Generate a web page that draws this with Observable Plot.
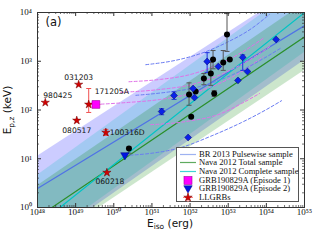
<!DOCTYPE html>
<html><head><meta charset="utf-8">
<script src="https://cdn.jsdelivr.net/npm/d3@7"></script>
<script src="https://cdn.jsdelivr.net/npm/@observablehq/plot@0.6"></script>
<style>
body{margin:0;background:#fff}
#chart{position:relative;width:320px;height:240px}
#legend{position:absolute;left:176px;top:147px;width:123px;height:55px;background:#fff;border:0.8px solid #555;box-sizing:border-box;font-family:"Liberation Serif",serif;font-size:8.6px;color:#111}
#legend .row{position:absolute;left:0;height:9px;width:122px}
#legend .row svg{position:absolute;left:1px;top:0;width:20px;height:9px;overflow:visible}
#legend .row span{position:absolute;left:22px;top:0;line-height:9px;white-space:nowrap}
</style>
</head><body><div id="chart"></div>
<script>
// ---------- axes ----------
const majorX = [1e48,1e49,1e50,1e51,1e52,1e53,1e54,1e55];
const majorY = [1,10,100,1000,10000];
// ---------- correlation bands (values at Eiso = 1e48 and 1e55) ----------
const bandX = [1e48, 1e55];
const brCenter = [2.45, 5370];
const brUpper  = [11.2, 39800];
const brLower  = [0.158, 1050];
const navaCCenter = [0.43, 10000];
const navaCUpper  = [4.57, 39800];
const navaCLower  = [0.178, 1510];
const navaTCenter = [0.63, 3160];
const navaTUpper  = [2.8, 15500];
const navaTLower  = [0.141, 645];
// ---------- LLGRBs ----------
const llgrbNames = ["980425","031203","171205A","080517","100316D","060218"];
const llgrbEiso  = [1.6e48, 1.2e49, 2.2e49, 1.07e49, 6.2e49, 6.6e49];
const llgrbEp    = [142, 333, 130, 61, 34.6, 5.2];
const llgrbEpLo  = [null, null, 89, null, 30, null];
const llgrbEpHi  = [null, null, 276, null, 40, null];
// ---------- other GRBs (black) ----------
const blackEiso = [9.3e52,4.0e52,7.4e52,1.1e53,3.5e52,2.3e52,9.4e51,1.4e52,4.3e52,1.07e52,2.5e50];
const blackEp   = [3540,1090,940,1090,560,445,208,240,218,73,16.2];
const blackEpLo = [1590,700,650,null,320,330,125,null,190,null,13];
const blackEpHi = [9500,1660,1660,null,940,560,360,null,250,null,17.5];
// ---------- blue diamonds ----------
const blueEiso = [1.8e51,3.8e51,1.2e52,1.3e52,2.8e52,5.5e52,1.8e53,2.4e53,3.2e53,1.8e54,8.9e51];
const blueEp   = [93,198,276,180,990,780,405,1200,615,2800,27.3];
const blueEpLo = [80,165,null,null,590,null,null,650,null,null,null];
const blueEpHi = [106,235,null,null,1500,null,null,1350,null,null,null];
// ---------- GRB190829A ----------
const ep1Eiso = [3.4e49], ep1Ep = [130], ep1EisoLo=[2.0e49], ep1EisoHi=[4.7e49], ep1EpLo=[110], ep1EpHi=[150];
const ep2Eiso = [1.95e50], ep2Ep = [11.7];
// ---------- redshift tracks (dashed) ----------
const trackA = {c:"blue",    e:[1.95e50,9.3e50,5.8e51,3.5e52,2.2e53,1.0e54,2.5e54], p:[11.7,12.9,17,29,55,102,155]};
const trackB = {c:"magenta", e:[3.4e49,2.1e50,1.7e51,1.07e52,6.6e52,3.0e53,8.3e53], p:[130,142,165,218,365,710,1250]};
const trackC = {c:"blue",    e:[6.9e50,4.3e51,1.95e52,8.9e52,4.1e53,1.2e54], p:[850,1050,1450,2400,4700,9100]};
const trackD = {c:"magenta", e:[2.5e50,1.7e51,1.07e52,4.8e52,2.2e53,8.3e53], p:[380,425,540,820,1500,2950]};
const trackE = {c:"magenta", e:[1.5e50,1.7e51,1.07e52,6.6e52,3.5e53,1.35e54], p:[230,265,330,540,1050,2100]};
const trackF = {c:"blue",    e:[3.8e50,2.3e51,1.45e52,8.9e52,5.5e53,2.5e54], p:[200,230,290,465,940,1900]};
const trackG = {c:"magenta", e:[9.3e50,7.8e51,6.6e52,2.2e53,6.6e53], p:[50,58,85,135,218]};
const tracks = [trackA,trackB,trackC,trackD,trackE,trackF,trackG];
// ---------- legend ----------
const legendLabels = ["BR 2013 Pulsewise sample","Nava 2012 Total sample","Nava 2012 Complete sample","GRB190829A (Episode 1)","GRB190829A (Episode 2)","LLGRBs"];

// ---------- styles ----------
const COL = {br:"#0000ff", brLine:"#4f72e6", navaC:"#00bfbf", navaCLine:"#00c4c4", navaT:"#008000", navaTLine:"#2a8f2a",
  dashBlue:"#6a7cf2", dashMag:"#e070e8", star:"#d40000", sq:"#ff00ff", tri:"#0014e0", dia:"#0a22e8"};
const W=320,H=240,mL=37,mR=16,mT=12,mB=33, pH=H-mT-mB, pW=W-mL-mR;
const sup = d => "10" + String(Math.round(Math.log10(d))).split("").map(c=>"⁰¹²³⁴⁵⁶⁷⁸⁹"[+c]).join("");
function minorOf(major){const out=[];for(let i=0;i<major.length-1;i++)for(let k=2;k<10;k++)out.push(major[i]*k);return out;}
const minorX = minorOf(majorX), minorY = minorOf(majorY);
const band = (lo,hi)=> bandX.map((x,i)=>({x, lo:lo[i], hi:hi[i]}));
const line = (c)=> bandX.map((x,i)=>({x, y:c[i]}));
const zipErr = (e,p,lo,hi)=> e.map((x,i)=>({x, y:p[i], lo:lo[i], hi:hi[i]})).filter(d=>d.lo!=null);
const triDown = {draw(ctx,size){const r=Math.sqrt(size/Math.PI);ctx.moveTo(-r*1.15,-r*0.75);ctx.lineTo(r*1.15,-r*0.75);ctx.lineTo(0,r*1.25);ctx.closePath();}};
const cap = {draw(ctx,size){ctx.moveTo(-2.5,0);ctx.lineTo(2.5,0);}};

const trackRows = tracks.map((t,k)=>t.e.map((e,i)=>({x:e,y:t.p[i],k,c:t.c}))).flat();
const llgrb = llgrbNames.map((n,i)=>({n,x:llgrbEiso[i],y:llgrbEp[i]}));
const labelOff = {"980425":[-2,-7,"start"],"031203":[0,-7,"middle"],"171205A":[6,-13,"start"],"080517":[0,10,"middle"],"100316D":[4,0,"start"],"060218":[3,9,"middle"]};

const blackErr = zipErr(blackEiso,blackEp,blackEpLo,blackEpHi);
const blueErr = zipErr(blueEiso,blueEp,blueEpLo,blueEpHi);
const llErr = zipErr(llgrbEiso,llgrbEp,llgrbEpLo,llgrbEpHi);

const marks = [
  Plot.areaY(band(brLower,brUpper),{x:"x",y1:"lo",y2:"hi",fill:COL.br,fillOpacity:0.2,clip:true}),
  Plot.areaY(band(navaCLower,navaCUpper),{x:"x",y1:"lo",y2:"hi",fill:COL.navaC,fillOpacity:0.2,clip:true}),
  Plot.areaY(band(navaTLower,navaTUpper),{x:"x",y1:"lo",y2:"hi",fill:COL.navaT,fillOpacity:0.2,clip:true}),
  Plot.line(line(brCenter),{x:"x",y:"y",stroke:COL.brLine,strokeWidth:1.2,clip:true}),
  Plot.line(line(navaTCenter),{x:"x",y:"y",stroke:COL.navaTLine,strokeWidth:1.2,clip:true}),
  Plot.line(line(navaCCenter),{x:"x",y:"y",stroke:COL.navaCLine,strokeWidth:1.2,clip:true}),
  Plot.line(trackRows,{x:"x",y:"y",z:"k",stroke:d=>d.c==="blue"?COL.dashBlue:COL.dashMag,strokeWidth:1,strokeDasharray:"3,2.2",curve:"monotone-x",clip:true}),
  // error bars
  Plot.ruleX(blackErr,{x:"x",y1:"lo",y2:"hi",stroke:"#555",strokeWidth:1}),
  Plot.dot(blackErr,{x:"x",y:"lo",symbol:cap,stroke:"#555",strokeWidth:1}),
  Plot.dot(blackErr,{x:"x",y:"hi",symbol:cap,stroke:"#555",strokeWidth:1}),
  Plot.ruleX(blueErr,{x:"x",y1:"lo",y2:"hi",stroke:"#2030e0",strokeWidth:1}),
  Plot.dot(blueErr,{x:"x",y:"lo",symbol:cap,stroke:"#2030e0",strokeWidth:1}),
  Plot.dot(blueErr,{x:"x",y:"hi",symbol:cap,stroke:"#2030e0",strokeWidth:1}),
  Plot.ruleX(llErr,{x:"x",y1:"lo",y2:"hi",stroke:"#f05050",strokeWidth:1}),
  Plot.dot(llErr,{x:"x",y:"lo",symbol:cap,stroke:"#f05050",strokeWidth:1}),
  Plot.dot(llErr,{x:"x",y:"hi",symbol:cap,stroke:"#f05050",strokeWidth:1}),
  Plot.ruleY(ep1Eiso.map((x,i)=>({y:ep1Ep[i],x1:ep1EisoLo[i],x2:ep1EisoHi[i]})),{y:"y",x1:"x1",x2:"x2",stroke:"#ff80c0",strokeWidth:1}),
  Plot.ruleX(ep1Eiso.map((x,i)=>({x,y1:ep1EpLo[i],y2:ep1EpHi[i]})),{x:"x",y1:"y1",y2:"y2",stroke:"#ff80c0",strokeWidth:1}),
  // points
  Plot.dot(blackEiso.map((x,i)=>({x,y:blackEp[i]})),{x:"x",y:"y",r:3,fill:"black"}),
  Plot.dot(blueEiso.map((x,i)=>({x,y:blueEp[i]})),{x:"x",y:"y",r:3.1,symbol:"diamond2",fill:COL.dia,stroke:"#000070",strokeWidth:0.5}),
  Plot.dot(llgrb,{x:"x",y:"y",r:2.6,symbol:"star",fill:COL.star,stroke:"#700000",strokeWidth:0.5}),
  Plot.dot(ep1Eiso.map((x,i)=>({x,y:ep1Ep[i]})),{x:"x",y:"y",r:4.4,symbol:"square",fill:COL.sq,stroke:"#a000a0",strokeWidth:0.6}),
  Plot.dot(ep2Eiso.map((x,i)=>({x,y:ep2Ep[i]})),{x:"x",y:"y",r:3.6,symbol:triDown,fill:COL.tri,stroke:"#000080",strokeWidth:0.5}),
  ...llgrb.map(d=>Plot.text([d],{x:"x",y:"y",text:"n",dx:labelOff[d.n][0],dy:labelOff[d.n][1],textAnchor:labelOff[d.n][2],fontFamily:"DejaVu Sans",fontSize:7.6,fill:"#111"})),
  Plot.text(["(a)"],{frameAnchor:"top-left",dx:8,dy:5,lineAnchor:"top",textAnchor:"start",fontFamily:"DejaVu Sans",fontSize:11.5,fill:"#111"}),
  // inward ticks
  Plot.tickX(majorX,{x:d=>d,insetTop:pH-4,stroke:"#333"}),
  Plot.tickX(majorX,{x:d=>d,insetBottom:pH-4,stroke:"#333"}),
  Plot.tickX(minorX,{x:d=>d,insetTop:pH-2,stroke:"#333",strokeWidth:0.7}),
  Plot.tickX(minorX,{x:d=>d,insetBottom:pH-2,stroke:"#333",strokeWidth:0.7}),
  Plot.tickY(majorY,{y:d=>d,insetRight:pW-4,stroke:"#333"}),
  Plot.tickY(majorY,{y:d=>d,insetLeft:pW-4,stroke:"#333"}),
  Plot.tickY(minorY,{y:d=>d,insetRight:pW-2,stroke:"#333",strokeWidth:0.7}),
  Plot.tickY(minorY,{y:d=>d,insetLeft:pW-2,stroke:"#333",strokeWidth:0.7}),
  Plot.frame({stroke:"#333",strokeWidth:1}),
  Plot.axisX({ticks:majorX,tickSize:0,tickPadding:1.5,tickFormat:sup,label:null,fontFamily:"Liberation Serif",fontSize:9}),
  Plot.axisY({ticks:majorY,tickSize:0,tickPadding:5.5,tickFormat:sup,label:null,fontFamily:"Liberation Serif",fontSize:9})
];

const svg = Plot.plot({
  width:W,height:H,marginLeft:mL,marginRight:mR,marginTop:mT,marginBottom:mB,
  x:{type:"log",domain:[1e48,1e55]},
  y:{type:"log",domain:[1,1e4]},
  style:{fontFamily:"Liberation Serif",fontSize:"9px",background:"white",color:"#111"},
  marks
});
const chart = document.getElementById("chart");
chart.appendChild(svg);

// axis labels with subscripts
const s = d3.select(svg);
const xl = s.append("text").attr("x",170).attr("y",226.5).attr("text-anchor","middle").attr("font-family","DejaVu Sans").attr("font-size",10.5).attr("fill","#111");
xl.append("tspan").text("E");
xl.append("tspan").attr("font-size",7.5).attr("dy",2.5).text("iso");
xl.append("tspan").attr("dy",-2.5).text(" (erg)");
const yl = s.append("text").attr("transform","translate(11,110) rotate(-90)").attr("text-anchor","middle").attr("font-family","DejaVu Sans").attr("font-size",10.5).attr("fill","#111");
yl.append("tspan").text("E");
yl.append("tspan").attr("font-size",7.5).attr("dy",2.5).text("p,z");
yl.append("tspan").attr("dy",-2.5).text(" (keV)");

// legend (HTML overlay)
const lineCols = [COL.brLine, COL.navaTLine, COL.navaCLine];
const starPath = d3.symbol(d3.symbolStar,22)();
const markerSvg = i => {
  if (i<3) return `<line x1="2" x2="18" y1="4.5" y2="4.5" stroke="${lineCols[i]}" stroke-width="1.2" stroke-opacity="${i===0?0.55:0.75}"/>`;
  if (i===3) return `<rect x="6" y="0.5" width="8" height="8" fill="${COL.sq}" stroke="#a000a0" stroke-width="0.6"/>`;
  if (i===4) return `<path transform="translate(10,4.5)" d="M-4.2,-2.8L4.2,-2.8L0,4.6Z" fill="${COL.tri}" stroke="#000080" stroke-width="0.5"/>`;
  return `<line x1="5" x2="15" y1="4.5" y2="4.5" stroke="#ff8080"/><line x1="10" x2="10" y1="0" y2="9" stroke="#ff8080"/><path transform="translate(10,4.5)" d="${starPath}" fill="${COL.star}" stroke="#700000" stroke-width="0.5"/>`;
};
const lg = document.createElement("div");
lg.id = "legend";
lg.innerHTML = legendLabels.map((t,i)=>`<div class="row" style="top:${1.5+i*8.7}px"><svg viewBox="0 0 20 9">${markerSvg(i)}</svg><span>${t}</span></div>`).join("");
chart.appendChild(lg);
</script></body></html>
